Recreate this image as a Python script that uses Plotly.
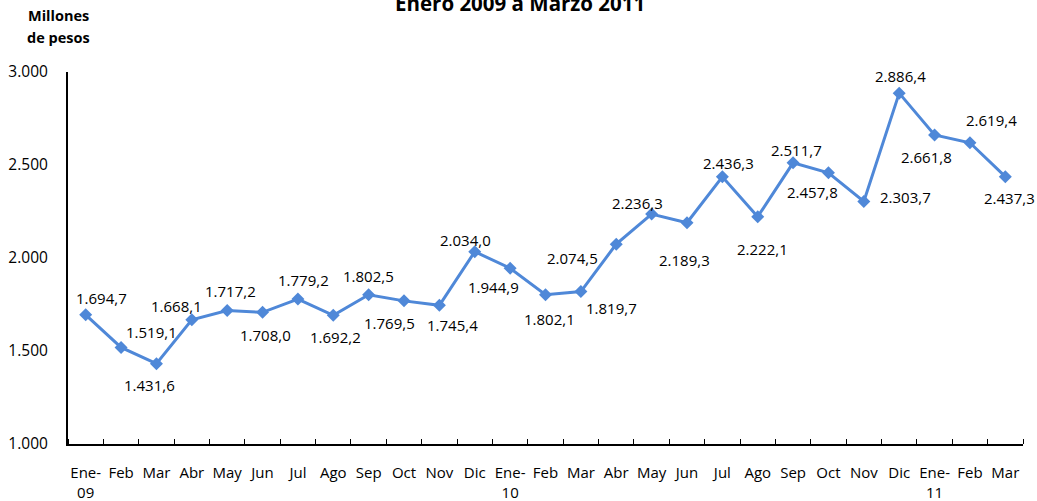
import plotly.graph_objects as go

# ---- data ----
months = ["Ene-<br>09", "Feb", "Mar", "Abr", "May", "Jun", "Jul", "Ago", "Sep", "Oct", "Nov", "Dic",
          "Ene-<br>10", "Feb", "Mar", "Abr", "May", "Jun", "Jul", "Ago", "Sep", "Oct", "Nov", "Dic",
          "Ene-<br>11", "Feb", "Mar"]
values = [1694.7, 1519.1, 1431.6, 1668.1, 1717.2, 1708.0, 1779.2, 1692.2, 1802.5, 1769.5, 1745.4, 2034.0,
          1944.9, 1802.1, 1819.7, 2074.5, 2236.3, 2189.3, 2436.3, 2222.1, 2511.7, 2457.8, 2303.7, 2886.4,
          2661.8, 2619.4, 2437.3]
y_ticks = [1000, 1500, 2000, 2500, 3000]

# label offsets in pixels (dx right, dy down) – styling only
label_offsets = [(16, -17), (30, -15), (-7, 21), (-15, -14), (3, -20), (3, 23), (6, -19), (2, 22),
                 (0, -19), (-15, 22), (13, 20), (-9, -12), (-17, 19), (4, 24), (31, 16), (-44, 14),
                 (-14, -11), (-2, 37), (6, -14), (5, 32), (3, -13), (-16, 19), (42, -5), (1, -17),
                 (-8, 22), (22, -23), (4, 21)]

FONT = "Open Sans"
COLOR = "#4f88d8"
L, R, T, B = 68, 1023, 72, 444

def fmt(v):
    s = f"{v:,.1f}"
    return s.replace(",", "X").replace(".", ",").replace("X", ".")

x = list(range(len(values)))

fig = go.Figure()
fig.add_trace(go.Scatter(
    x=x, y=values, mode="lines+markers",
    line=dict(color=COLOR, width=3),
    marker=dict(symbol="diamond", size=10, color=COLOR),
    hoverinfo="skip", showlegend=False,
))

annotations = []
for i, (v, (dx, dy)) in enumerate(zip(values, label_offsets)):
    annotations.append(dict(
        x=i, y=v, xref="x", yref="y", text=fmt(v), showarrow=False,
        xanchor="center", yanchor="middle",
        xshift=dx, yshift=-dy, font=dict(family=FONT, size=15, color="#000000"),
    ))

def px_x(p):
    return (p - L) / (R - L)

annotations.append(dict(
    x=px_x(520), y=1, xref="paper", yref="paper", xanchor="center", yanchor="middle",
    yshift=T - 3, text="<b>Enero 2009 a Marzo 2011</b>", showarrow=False,
    font=dict(family=FONT, size=20.5, color="#000000"),
))
for txt, ypix in (("<b>Millones</b>", 15), ("<b>de pesos</b>", 37)):
    annotations.append(dict(
        x=px_x(58), y=1, xref="paper", yref="paper", xanchor="center", yanchor="middle",
        yshift=T - ypix, text=txt, showarrow=False,
        font=dict(family=FONT, size=14.5, color="#000000"),
    ))

fig.update_layout(
    width=1037, height=501,
    margin=dict(l=L, r=1037 - R, t=T, b=501 - B, autoexpand=False),
    paper_bgcolor="white", plot_bgcolor="white",
    separators=",.",
    annotations=annotations,
    font=dict(family=FONT, size=15, color="#000000"),
)
fig.update_xaxes(
    range=[-0.5, len(values) - 0.5], automargin=False,
    tickmode="array", tickvals=x, ticktext=months,
    ticks="", showgrid=False, zeroline=False,
    showline=True, linecolor="#000000", linewidth=2,
    ticklabelstandoff=14,
    minor=dict(tickmode="linear", tick0=-0.5, dtick=1, ticks="inside", ticklen=5,
               tickcolor="#000000", tickwidth=1, showgrid=False),
    tickfont=dict(family=FONT, size=15, color="#000000"),
)
fig.update_yaxes(
    range=[1000, 3000], automargin=False,
    tickmode="array", tickvals=y_ticks, tickformat=",d",
    ticks="", showgrid=False, zeroline=False,
    showline=True, linecolor="#000000", linewidth=2,
    ticklabelstandoff=15,
    tickfont=dict(family=FONT, size=15.5, color="#000000"),
)

fig.write_html("out.html", config={"displayModeBar": False},
               post_script="document.body.style.margin='0';document.body.style.overflow='hidden';")
